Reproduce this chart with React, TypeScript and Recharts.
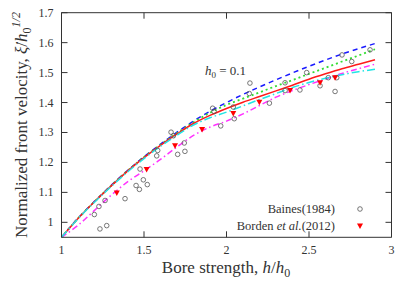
import React from "react";
import { ComposedChart, Line, Scatter, XAxis, YAxis, Legend, Customized } from "recharts";

// theory curves, sampled on h/h0
const xs = [1.0, 1.1, 1.2, 1.3, 1.4, 1.5, 1.6, 1.7, 1.8, 1.9, 2.0, 2.1, 2.2, 2.3, 2.4, 2.5, 2.6, 2.7, 2.8, 2.9];
const blue = [0.95, 1.014, 1.07, 1.123, 1.173, 1.219, 1.261, 1.301, 1.338, 1.371, 1.4, 1.427, 1.452, 1.476, 1.499, 1.521, 1.542, 1.562, 1.58, 1.597];
const green = [0.95, 1.013, 1.069, 1.122, 1.172, 1.218, 1.259, 1.298, 1.334, 1.366, 1.392, 1.413, 1.434, 1.455, 1.475, 1.496, 1.516, 1.537, 1.557, 1.578];
const red = [0.95, 1.013, 1.069, 1.121, 1.171, 1.216, 1.257, 1.295, 1.33, 1.357, 1.38, 1.401, 1.42, 1.439, 1.458, 1.478, 1.496, 1.513, 1.528, 1.543];
const cyan = [0.95, 1.012, 1.067, 1.119, 1.168, 1.213, 1.254, 1.291, 1.325, 1.349, 1.368, 1.389, 1.41, 1.43, 1.45, 1.467, 1.481, 1.493, 1.503, 1.511];
const magenta = [0.95, 0.99, 1.04, 1.09, 1.135, 1.172, 1.21, 1.252, 1.29, 1.318, 1.338, 1.362, 1.39, 1.418, 1.44, 1.46, 1.478, 1.497, 1.513, 1.528];

// experiments
const bainesX = [1.199, 1.227, 1.264, 1.233, 1.274, 1.385, 1.452, 1.472, 1.496, 1.52, 1.476, 1.577, 1.583, 1.704, 1.748, 1.744, 1.664, 1.678, 1.916, 1.925, 1.965, 2.041, 2.047, 2.142, 2.138, 2.26, 2.355, 2.355, 2.445, 2.486, 2.567, 2.617, 2.668, 2.658, 2.7, 2.759, 2.87];
const bainesY = [1.026, 1.053, 1.073, 0.978, 0.989, 1.079, 1.123, 1.11, 1.142, 1.126, 1.178, 1.222, 1.24, 1.227, 1.237, 1.265, 1.301, 1.289, 1.381, 1.37, 1.322, 1.385, 1.346, 1.465, 1.43, 1.398, 1.466, 1.44, 1.442, 1.5, 1.456, 1.483, 1.483, 1.437, 1.559, 1.537, 1.576];
const bordenX = [1.335, 1.516, 1.688, 1.852, 2.041, 2.199, 2.385, 2.567, 2.658];
const bordenY = [1.098, 1.176, 1.256, 1.31, 1.363, 1.401, 1.44, 1.466, 1.483];

const xTicks = [1, 1.5, 2, 2.5, 3];
const yTicks = [1, 1.1, 1.2, 1.3, 1.4, 1.5, 1.6, 1.7];

const curves = xs.map((x, i) => ({
  x,
  blue: blue[i],
  green: green[i],
  red: red[i],
  cyan: cyan[i],
  magenta: magenta[i],
}));
const baines = bainesX.map((x, i) => ({ x, y: bainesY[i] }));
const borden = bordenX.map((x, i) => ({ x, y: bordenY[i] }));

const serif = "'Liberation Serif', 'DejaVu Serif', serif";
const ink = "#333";

const BottomTick = (props: any) => {
  const { x, y, payload } = props;
  return (
    <g>
      <line x1={x} y1={y} x2={x} y2={y - 6} stroke={ink} />
      <text x={x} y={y + 17} textAnchor="middle" fontSize={12} fontFamily={serif} fill={ink}>
        {payload.value}
      </text>
    </g>
  );
};
const TopTick = (props: any) => {
  const { x, y } = props;
  return <line x1={x} y1={y} x2={x} y2={y + 6} stroke={ink} />;
};
const LeftTick = (props: any) => {
  const { x, y, payload } = props;
  return (
    <g>
      <line x1={x} y1={y} x2={x + 6} y2={y} stroke={ink} />
      <text x={x - 8} y={y + 4} textAnchor="end" fontSize={12} fontFamily={serif} fill={ink}>
        {payload.value}
      </text>
    </g>
  );
};
const RightTick = (props: any) => {
  const { x, y } = props;
  return <line x1={x} y1={y} x2={x - 6} y2={y} stroke={ink} />;
};

const Circle = (props: any) => (
  <circle cx={props.cx} cy={props.cy} r={2.3} fill="none" stroke="#555" strokeWidth={0.8} />
);
const Tri = (props: any) => {
  const { cx, cy } = props;
  return <polygon points={`${cx - 3},${cy - 2.5} ${cx + 3},${cy - 2.5} ${cx},${cy + 3}`} fill="#f00" />;
};

const LegendBox = () => (
  <div style={{ fontFamily: serif, fontSize: 12.5, color: ink, lineHeight: "16.5px" }}>
    <div style={{ display: "flex", alignItems: "center" }}>
      <span style={{ width: 135, textAlign: "right", fontFamily: serif }}>Baines(1984)</span>
      <svg width={10} height={10} style={{ marginLeft: 20 }}>
        <circle cx={5} cy={5} r={2.3} fill="none" stroke="#555" strokeWidth={0.8} />
      </svg>
    </div>
    <div style={{ display: "flex", alignItems: "center" }}>
      <span style={{ width: 135, textAlign: "right", fontFamily: serif }}>
        Borden <i>et al.</i>(2012)
      </span>
      <svg width={10} height={10} style={{ marginLeft: 20 }}>
        <polygon points="2,2.5 8,2.5 5,8" fill="#f00" />
      </svg>
    </div>
  </div>
);

const Annotations = () => (
  <g fontFamily={serif} fill={ink}>
    <text x={226} y={273} textAnchor="middle" fontSize={17}>
      Bore strength, <tspan fontStyle="italic">h</tspan>/<tspan fontStyle="italic">h</tspan>
      <tspan fontSize={12} dy={4}>0</tspan>
    </text>
    <text transform="translate(27,125) rotate(-90)" textAnchor="middle" fontSize={17}>
      Normalized front velocity, <tspan fontStyle="italic">{"\u03be\u0307"}</tspan>/
      <tspan fontStyle="italic">h</tspan>
      <tspan fontSize={12} dy={4}>0</tspan>
      <tspan fontSize={12} dy={-11} fontStyle="italic">1/2</tspan>
    </text>
    <text x={205} y={75} fontSize={13}>
      <tspan fontStyle="italic">h</tspan>
      <tspan fontSize={9} dy={3}>0</tspan>
      <tspan dy={-3}> = 0.1</tspan>
    </text>
  </g>
);

export default function App() {
  return (
    <div style={{ position: "absolute", left: 0, top: 0 }}>
      <ComposedChart
        width={415}
        height={291}
        data={curves}
        margin={{ top: 11.7, right: 22.5, bottom: 23.7, left: 21.5 }}
      >
        <XAxis
          dataKey="x"
          type="number"
          domain={[1, 3]}
          ticks={xTicks}
          height={30}
          tickSize={0}
          tickMargin={0}
          tickLine={false}
          tick={<BottomTick />}
          axisLine={{ stroke: ink }}
          interval={0}
        />
        <XAxis
          xAxisId="top"
          orientation="top"
          dataKey="x"
          type="number"
          domain={[1, 3]}
          ticks={xTicks}
          height={1}
          tickSize={0}
          tickMargin={0}
          tickLine={false}
          tick={<TopTick />}
          axisLine={{ stroke: ink }}
          interval={0}
        />
        <YAxis
          type="number"
          domain={[0.95, 1.7]}
          ticks={yTicks}
          width={40}
          tickSize={0}
          tickMargin={0}
          tickLine={false}
          tick={<LeftTick />}
          axisLine={{ stroke: ink }}
          interval={0}
          allowDataOverflow
        />
        <YAxis
          yAxisId="right"
          orientation="right"
          type="number"
          domain={[0.95, 1.7]}
          ticks={yTicks}
          width={1}
          tickSize={0}
          tickMargin={0}
          tickLine={false}
          tick={<RightTick />}
          axisLine={{ stroke: ink }}
          interval={0}
          allowDataOverflow
        />
        <Line type="monotone" dataKey="blue" stroke="#1a1aff" strokeWidth={1.5} strokeDasharray="5 4" dot={false} isAnimationActive={false} />
        <Line type="monotone" dataKey="green" stroke="#33dd33" strokeWidth={1.8} strokeDasharray="2 3" dot={false} isAnimationActive={false} />
        <Line type="monotone" dataKey="red" stroke="#ff1a1a" strokeWidth={1.5} dot={false} isAnimationActive={false} />
        <Line type="monotone" dataKey="magenta" stroke="#ff33ff" strokeWidth={1.5} strokeDasharray="6 3 1.5 3" dot={false} isAnimationActive={false} />
        <Line type="monotone" dataKey="cyan" stroke="#22e5e5" strokeWidth={1.5} strokeDasharray="8 3 1.5 3" dot={false} isAnimationActive={false} />
        <Scatter data={baines} dataKey="y" shape={<Circle />} isAnimationActive={false} />
        <Scatter data={borden} dataKey="y" shape={<Tri />} isAnimationActive={false} />
        <Legend
          layout="vertical"
          align="center"
          verticalAlign="middle"
          content={<LegendBox />}
          wrapperStyle={{ left: 200, top: 201, width: 175 }}
        />
        <Customized component={Annotations} />
      </ComposedChart>
    </div>
  );
}
